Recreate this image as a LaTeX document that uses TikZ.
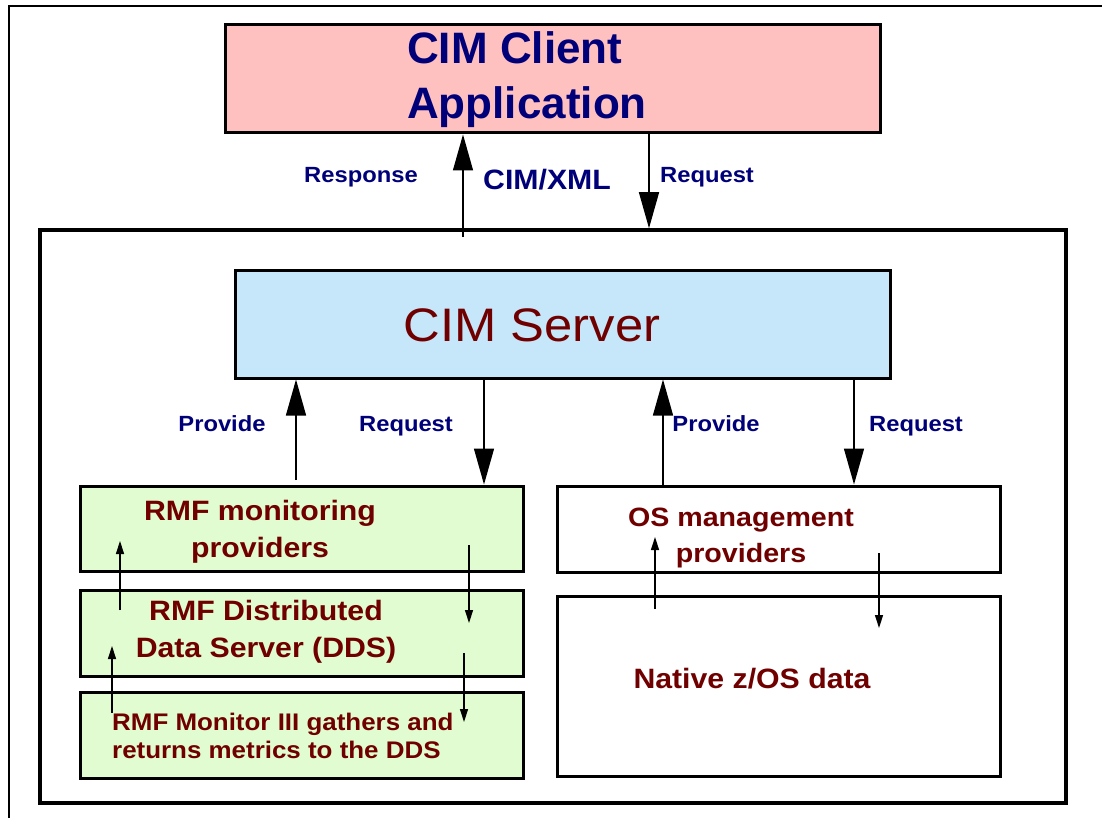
\documentclass[tikz,border=0pt]{standalone}
\usepackage{fontspec}
\setmainfont{Liberation Sans}
\newfontfamily\widesf{Liberation Sans}[FakeStretch=1.08]
\usetikzlibrary{arrows.meta}
\definecolor{clientpink}{RGB}{255,192,192}
\definecolor{serverblue}{RGB}{198,230,250}
\definecolor{rmfgreen}{RGB}{224,252,208}
\definecolor{labelblue}{RGB}{0,0,120}
\definecolor{boxred}{RGB}{112,0,0}

\begin{document}
\begin{tikzpicture}[x=1pt, y=-1pt,
  box/.style={draw, line width=3pt, inner sep=0pt},
  bigtip/.style={-{Triangle[length=36pt,width=20pt]}, line width=1.4pt},
  smalltip/.style={-{Triangle[length=13pt,width=8pt]}, line width=1.4pt},
  lbl/.style={anchor=base, inner sep=0pt, text=labelblue, font=\widesf\bfseries\fontsize{22}{26}\selectfont},
  boxtext/.style={inner sep=0pt, text=boxred, font=\widesf\bfseries\fontsize{28}{37}\selectfont, align=center}]
\useasboundingbox (0,0) rectangle (1102,818);
% Rahmen oben und links
\draw[line width=1.5pt] (9,818) -- (9,6) -- (1102,6);
% Client
\node[box, fill=clientpink, minimum width=655pt, minimum height=108pt] (client) at (552.5,79) {};
\node[anchor=west, inner sep=0pt, align=left, text=labelblue,
  font=\bfseries\fontsize{44}{55}\selectfont] (clienttext) at (407,79.3) {CIM Client\\Application};
% aeusserer Kasten
\node[box, fill=white, line width=3.5pt, minimum width=1026pt, minimum height=573pt] (outer) at (553,516.5) {};
% CIM/XML Verbindung
\coordinate (resp) at (463,237);
\coordinate (req) at (649,0);
\draw[bigtip] (resp) -- (resp |- client.south);
\draw[bigtip] (req |- client.south) -- (req |- outer.north);
\node[lbl] (resplbl) at (361,183) {Response};
\node[lbl, font=\widesf\bfseries\fontsize{28}{32}\selectfont] (xmllbl) at (547,190) {CIM/XML};
\node[lbl] (reqlbl) at (707,183) {Request};
% CIM Server
\node[box, fill=serverblue, minimum width=655pt, minimum height=108pt] (server) at (562.5,324) {};
\node[inner sep=0pt, text=boxred, font=\widesf\fontsize{47}{56}\selectfont] (servertext) at (532,325) {CIM Server};
% RMF Seite
\node[box, fill=rmfgreen, minimum width=443pt, minimum height=85pt] (rmfprov) at (301.5,528.5) {};
\node[box, fill=rmfgreen, minimum width=443pt, minimum height=86pt] (dds) at (301.5,633) {};
\node[box, fill=rmfgreen, minimum width=443pt, minimum height=86pt] (mon) at (301.5,735) {};
\node[boxtext] (rmfprovtext) at (260,531.5) {RMF monitoring\\providers};
\node[boxtext] (ddstext) at (266,631.5) {RMF Distributed\\Data Server (DDS)};
\node[boxtext, anchor=west, align=left, font=\widesf\bfseries\fontsize{24}{28}\selectfont] (montext) at (112,735.5)
  {RMF Monitor III gathers and\\returns metrics to the DDS};
% OS Seite
\node[box, fill=white, minimum width=443pt, minimum height=86pt] (osprov) at (778.5,529) {};
\node[box, fill=white, minimum width=443pt, minimum height=180pt] (native) at (778.5,686) {};
\node[boxtext, font=\widesf\bfseries\fontsize{26.5}{36}\selectfont] (osprovtext) at (741,537.7) {OS management\\providers};
\node[boxtext, font=\widesf\bfseries\fontsize{28}{34}\selectfont] (nativetext) at (752,679) {Native z/OS data};
% Provide / Request
\coordinate (provl) at (296,480);
\coordinate (reql) at (484,0);
\coordinate (provr) at (663,0);
\coordinate (reqr) at (854,0);
\draw[bigtip] (provl) -- (provl |- server.south);
\draw[bigtip] (reql |- server.south) -- (reql |- rmfprov.north);
\draw[bigtip] (provr |- osprov.north) -- (provr |- server.south);
\draw[bigtip] (reqr |- server.south) -- (reqr |- osprov.north);
\node[lbl] (provllbl) at (222,431) {Provide};
\node[lbl] (reqllbl) at (406,431) {Request};
\node[lbl] (provrlbl) at (716,431) {Provide};
\node[lbl] (reqrlbl) at (916,431) {Request};
% kleine Pfeile zwischen den Schichten
\coordinate (up1a) at (120,610); \coordinate (up1b) at (120,541);
\coordinate (up2a) at (112,713); \coordinate (up2b) at (112,646);
\coordinate (dn1a) at (469,545); \coordinate (dn1b) at (469,623);
\coordinate (dn2a) at (464,653); \coordinate (dn2b) at (464,722);
\coordinate (up3a) at (655,609); \coordinate (up3b) at (655,537);
\coordinate (dn3a) at (879,553); \coordinate (dn3b) at (879,628);
\draw[smalltip] (up1a) -- (up1b);
\draw[smalltip] (up2a) -- (up2b);
\draw[smalltip] (dn1a) -- (dn1b);
\draw[smalltip] (dn2a) -- (dn2b);
\draw[smalltip] (up3a) -- (up3b);
\draw[smalltip] (dn3a) -- (dn3b);
\end{tikzpicture}
\end{document}
